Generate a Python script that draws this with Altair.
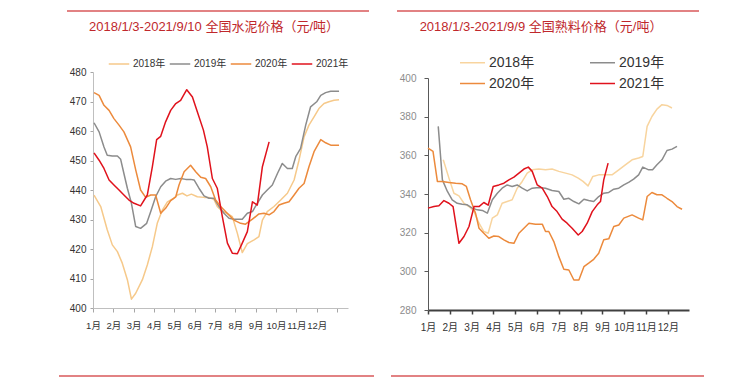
import altair as alt
import pandas as pd

FONT = "'Liberation Sans Narrow', 'Arial Narrow', 'Liberation Sans', 'Noto Sans CJK SC'"
YEARS = ["2018年", "2019年", "2020年", "2021年"]
COLORS_L = ["#f6c98a", "#8c8c8c", "#ec8a3c", "#e0121c"]
COLORS_R = ["#f8d49e", "#8c8c8c", "#ec8a3c", "#e0121c"]
WIDTHS = [1.5, 1.5, 1.8, 3.2]

# ---------------- cement price (left) ----------------
cement_2018_m = [1.05, 1.38, 1.7, 1.95, 2.2, 2.44, 2.69, 2.89, 3.1, 3.43, 3.67, 3.92, 4.16, 4.41, 4.66, 4.98,
                 5.15, 5.4, 5.62, 5.84, 6.13, 6.46, 6.7, 6.95, 7.11, 7.36, 7.6, 7.85, 8.1, 8.34, 8.59, 8.92,
                 9.16, 9.33, 9.57, 9.9, 10.23, 10.56, 10.89, 11.13, 11.38, 11.62, 11.87, 12.11, 12.36, 12.6,
                 12.85, 13.1]
cement_2018_v = [438.3, 434.4, 426.5, 421.4, 419.1, 415.2, 409.6, 403.0, 405.0, 409.6, 414.6, 420.8, 428.7,
                 433.2, 436.0, 437.2, 438.3, 438.9, 438.0, 438.6, 437.7, 437.5, 437.5, 436.8, 434.4, 432.7,
                 432.1, 431.0, 425.3, 418.8, 421.8, 423.1, 424.2, 429.8, 432.7, 434.4, 436.6, 438.9, 443.4,
                 450.1, 458.0, 462.0, 464.8, 467.6, 469.3, 469.9, 470.4, 470.6]
cement_2019_m = [1.05, 1.3, 1.54, 1.7, 1.95, 2.2, 2.36, 2.52, 2.69, 2.89, 3.1, 3.34, 3.64, 3.84, 4.08, 4.33,
                 4.57, 4.82, 5.07, 5.31, 5.56, 5.8, 5.97, 6.21, 6.46, 6.7, 6.95, 7.2, 7.44, 7.69, 7.93, 8.34,
                 8.59, 8.84, 9.08, 9.33, 9.57, 9.82, 10.07, 10.31, 10.56, 10.8, 10.97, 11.21, 11.46, 11.7,
                 12.0, 12.2, 12.44, 12.69, 13.1]
cement_2019_v = [462.8, 459.7, 454.6, 451.8, 451.5, 451.5, 450.4, 445.6, 440.6, 435.5, 427.6, 427.0, 428.7,
                 432.7, 437.7, 441.1, 443.0, 443.9, 443.6, 443.9, 443.6, 443.6, 443.4, 440.6, 438.0, 437.2,
                 437.2, 434.4, 432.1, 430.4, 430.1, 430.1, 432.1, 432.7, 435.5, 438.3, 440.0, 441.7, 445.6,
                 449.0, 447.3, 447.3, 451.3, 454.1, 462.0, 468.2, 469.9, 472.1, 473.0, 473.5, 473.5]
cement_2020_m = [1.05, 1.3, 1.54, 1.79, 2.03, 2.28, 2.52, 2.85, 3.1, 3.34, 3.59, 3.84, 4.08, 4.33, 4.57,
                 4.82, 5.07, 5.23, 5.48, 5.8, 6.05, 6.3, 6.54, 6.79, 7.03, 7.28, 7.6, 7.93, 8.26, 8.5, 8.84,
                 9.16, 9.41, 9.66, 9.9, 10.15, 10.39, 10.64, 10.89, 11.13, 11.38, 11.62, 11.87, 12.2, 12.44,
                 12.69, 13.1]
cement_2020_v = [473.0, 472.1, 468.7, 467.0, 464.2, 462.0, 459.7, 454.6, 446.8, 440.0, 437.5, 438.3, 438.3,
                 432.1, 433.8, 436.4, 437.7, 441.7, 446.2, 448.4, 446.2, 444.3, 443.9, 441.1, 436.6, 434.4,
                 432.1, 429.8, 428.7, 428.4, 430.1, 431.9, 432.1, 431.6, 432.7, 434.9, 435.5, 436.0, 438.3,
                 440.6, 442.2, 447.9, 453.0, 457.1, 456.0, 455.2, 455.2]
cement_2021_m = [1.05, 1.3, 1.54, 1.79, 2.03, 2.28, 2.52, 2.77, 3.02, 3.34, 3.67, 3.92, 4.13, 4.33, 4.57,
                 4.82, 5.07, 5.31, 5.61, 5.89, 6.13, 6.43, 6.62, 6.87, 7.11, 7.36, 7.61, 7.85, 8.1, 8.34,
                 8.59, 8.84, 9.08, 9.33, 9.66]
cement_2021_v = [452.6, 450.1, 447.3, 443.4, 441.7, 440.0, 438.3, 436.6, 435.5, 434.6, 438.3, 447.9, 457.1,
                 458.2, 463.1, 467.0, 469.3, 470.4, 474.0, 471.5, 466.5, 460.3, 454.6, 443.9, 440.6, 431.0,
                 422.0, 418.6, 418.4, 422.0, 425.9, 436.0, 434.9, 447.9, 456.3]

# ---------------- clinker price (right) ----------------
clinker_2018_m = [1.7, 1.96, 2.19, 2.42, 2.65, 2.88, 3.11, 3.34, 3.56, 3.76, 3.95, 4.18, 4.4, 4.63, 4.86,
                  5.09, 5.32, 5.55, 5.78, 6.08, 6.39, 6.69, 7.0, 7.31, 7.61, 7.89, 8.11, 8.34, 8.56, 8.83,
                  9.14, 9.44, 9.75, 10.05, 10.36, 10.66, 10.85, 11.05, 11.27, 11.5, 11.73, 11.96, 12.19]
clinker_2018_v = [357.7, 348.2, 340.4, 339.0, 335.2, 333.5, 330.9, 324.9, 320.6, 319.7, 327.5, 329.2, 335.2,
                  336.1, 337.0, 343.0, 346.5, 350.8, 352.5, 352.9, 352.5, 352.9, 351.7, 350.8, 349.9, 348.2,
                  346.5, 344.2, 349.1, 349.9, 349.9, 349.9, 352.5, 355.1, 357.7, 358.6, 359.4, 375.0, 380.1,
                  383.9, 386.2, 385.8, 384.5]
clinker_2019_m = [1.47, 1.66, 1.89, 2.11, 2.34, 2.57, 2.8, 3.03, 3.26, 3.49, 3.72, 3.95, 4.18, 4.4, 4.63,
                  4.86, 5.09, 5.32, 5.55, 5.78, 6.08, 6.39, 6.69, 7.0, 7.23, 7.46, 7.69, 7.92, 8.15, 8.37,
                  8.6, 8.83, 9.06, 9.29, 9.52, 9.75, 9.98, 10.2, 10.43, 10.66, 10.85, 11.12, 11.3, 11.5,
                  11.73, 11.96, 12.19, 12.42]
clinker_2019_v = [375.0, 347.3, 341.3, 337.0, 335.2, 334.7, 334.4, 332.7, 331.8, 331.5, 330.1, 337.0, 340.4,
                  343.0, 344.7, 343.9, 344.7, 343.0, 341.6, 343.0, 343.4, 343.0, 341.8, 341.3, 337.3, 337.8,
                  336.1, 334.9, 337.3, 336.6, 336.1, 338.7, 340.4, 340.8, 342.5, 343.0, 344.7, 346.0, 347.7,
                  349.9, 353.9, 352.5, 352.5, 355.1, 357.7, 362.5, 363.2, 364.6]
clinker_2020_m = [1.0, 1.23, 1.43, 1.66, 1.96, 2.27, 2.57, 2.76, 2.95, 3.18, 3.34, 3.56, 3.79, 4.02, 4.25,
                  4.48, 4.71, 4.94, 5.17, 5.4, 5.63, 5.93, 6.24, 6.39, 6.54, 6.77, 7.0, 7.23, 7.46, 7.69,
                  7.92, 8.15, 8.37, 8.6, 8.83, 9.06, 9.29, 9.52, 9.75, 9.98, 10.36, 10.66, 10.85, 11.05,
                  11.27, 11.5, 11.73, 11.96, 12.19, 12.42, 12.65]
clinker_2020_v = [363.7, 362.0, 346.5, 346.5, 346.0, 345.6, 345.3, 343.9, 337.0, 330.1, 322.3, 319.7, 317.1,
                  318.3, 318.0, 316.3, 314.9, 314.5, 319.7, 322.3, 324.9, 324.4, 324.4, 320.6, 320.6, 315.4,
                  307.6, 301.1, 300.7, 295.5, 295.5, 302.4, 304.2, 306.2, 309.4, 316.3, 316.8, 323.2, 324.0,
                  327.5, 329.2, 327.5, 326.6, 338.7, 340.8, 339.6, 339.6, 337.8, 336.1, 333.5, 332.1]
clinker_2021_m = [1.0, 1.27, 1.5, 1.73, 1.96, 2.15, 2.42, 2.65, 2.88, 3.11, 3.34, 3.56, 3.76, 3.99, 4.25,
                  4.48, 4.71, 4.94, 5.17, 5.4, 5.6, 5.78, 6.01, 6.24, 6.47, 6.69, 6.92, 7.15, 7.38, 7.61,
                  7.89, 8.07, 8.3, 8.53, 8.76, 8.91, 9.06, 9.26]
clinker_2021_v = [332.7, 333.5, 333.9, 336.6, 335.2, 333.5, 314.5, 318.0, 323.2, 333.5, 333.5, 335.6, 334.2,
                  343.9, 344.7, 345.6, 347.3, 348.7, 350.8, 352.9, 353.9, 351.7, 344.7, 343.0, 338.7, 333.5,
                  330.9, 327.0, 324.9, 322.3, 318.8, 320.6, 324.9, 330.9, 334.4, 336.1, 347.3, 356.0]


def long_df(series):
    rows = []
    for year, ms, vs in series:
        for order, (m, v) in enumerate(zip(ms, vs)):
            rows.append({"m": m, "v": v, "year": year, "o": order})
    return pd.DataFrame(rows)


cement_df = long_df([("2018年", cement_2018_m, cement_2018_v), ("2019年", cement_2019_m, cement_2019_v),
                     ("2020年", cement_2020_m, cement_2020_v), ("2021年", cement_2021_m, cement_2021_v)])
clinker_df = long_df([("2018年", clinker_2018_m, clinker_2018_v), ("2019年", clinker_2019_m, clinker_2019_v),
                      ("2020年", clinker_2020_m, clinker_2020_v), ("2021年", clinker_2021_m, clinker_2021_v)])

one = pd.DataFrame({"a": [0]})
LABEL_EXPR = "datum.value <= 12 ? datum.value + '月' : ''"
DECO = "#d9585a"
TITLE_COLOR = "#c0282c"


def deco(x1, x2, y):
    return alt.Chart(one).mark_rule(color=DECO, strokeWidth=1.6).encode(
        x=alt.value(x1), x2=alt.value(x2), y=alt.value(y))


def title(text, x, y, size):
    return alt.Chart(one).mark_text(text=text, font=FONT, fontSize=size, color=TITLE_COLOR,
                                    align="center", baseline="middle").encode(
        x=alt.value(x), y=alt.value(y))


def legend(**kw):
    base = dict(title=None, orient="none", direction="horizontal", symbolType="stroke",
                labelFont=FONT, labelColor="#333333", padding=0)
    base.update(kw)
    return alt.Legend(**base)


# ---- left panel ----
W1, H1 = 255, 236
LEG_L = dict(legendX=15, legendY=-19, symbolSize=420, labelFontSize=10, labelOffset=3, columnPadding=0)
left_lines = alt.Chart(cement_df).mark_line(strokeJoin="round").encode(
    x=alt.X("m:Q", title=None,
            scale=alt.Scale(domain=[1, 13.54], nice=False, zero=False),
            axis=alt.Axis(values=list(range(1, 14)), labelExpr=LABEL_EXPR, grid=False,
                          domainColor="#bfbfbf", tickColor="#a6a6a6", tickSize=4,
                          labelFont=FONT, labelFontSize=9.5, labelColor="#333333",
                          labelPadding=8, labelFlush=False, labelOverlap=False)),
    y=alt.Y("v:Q", title=None,
            scale=alt.Scale(domain=[400, 480], nice=False, zero=False),
            axis=alt.Axis(values=list(range(400, 481, 10)), grid=False,
                          domainColor="#bfbfbf", tickColor="#a6a6a6", tickSize=3,
                          labelFont=FONT, labelFontSize=10, labelColor="#333333",
                          labelPadding=4, labelOverlap=False)),
    color=alt.Color("year:O", scale=alt.Scale(domain=YEARS, range=COLORS_L), legend=legend(**LEG_L)),
    strokeWidth=alt.StrokeWidth("year:O", scale=alt.Scale(domain=YEARS, range=WIDTHS), legend=legend(**LEG_L)),
    order="o:Q",
)

left = alt.layer(
    left_lines,
    title("2018/1/3-2021/9/10 全国水泥价格（元/吨）", 121, -45, 13),
    deco(-26, 276, -61),
    deco(-34, 281, 304),
).properties(width=W1, height=H1)

# ---- right panel (plot area starts 6px lower than the left one) ----
W2, H2 = 261, 232
LEG_R = dict(legendX=31, legendY=-23, columns=2, symbolSize=625, labelFontSize=14, labelOffset=3,
             columnPadding=52, rowPadding=-4)
right_lines = alt.Chart(clinker_df).mark_line(strokeJoin="round").encode(
    x=alt.X("m:Q", title=None,
            scale=alt.Scale(domain=[1, 12.97], nice=False, zero=False),
            axis=alt.Axis(values=list(range(1, 13)), labelExpr=LABEL_EXPR, grid=False,
                          domainColor="#404040", domainWidth=2, tickColor="#404040", tickWidth=1.5,
                          tickSize=4, labelFont=FONT, labelFontSize=10, labelColor="#333333",
                          labelPadding=8, labelFlush=False, labelOverlap=False)),
    y=alt.Y("v:Q", title=None,
            scale=alt.Scale(domain=[280, 400], nice=False, zero=False),
            axis=alt.Axis(values=list(range(280, 401, 20)), grid=False,
                          domainColor="#595959", tickColor="#595959", tickSize=4,
                          labelFont=FONT, labelFontSize=10, labelColor="#8c8c8c",
                          labelPadding=8, labelOverlap=False)),
    color=alt.Color("year:O", scale=alt.Scale(domain=YEARS, range=COLORS_R), legend=legend(**LEG_R)),
    strokeWidth=alt.StrokeWidth("year:O", scale=alt.Scale(domain=YEARS, range=WIDTHS), legend=legend(**LEG_R)),
    order="o:Q",
)

right = alt.layer(
    right_lines,
    title("2018/1/3-2021/9/9 全国熟料价格（元/吨）", 113, -51, 13),
    deco(-31, 271, -67),
    deco(-37, 276, 298),
).properties(width=W2, height=H2)

spacer = alt.Chart(one).mark_point(opacity=0).encode(
    x=alt.value(0), y=alt.value(0)).properties(width=W2, height=6)
right_col = alt.vconcat(spacer, right, spacing=0, bounds="flush")

chart = alt.hconcat(left, right_col, spacing=80, bounds="flush").resolve_scale(
    x="independent", y="independent", color="independent", strokeWidth="independent"
).configure_view(stroke=None).properties(
    padding={"left": 50, "top": 2, "right": 5, "bottom": 5}, background="white"
)

chart.save("out.html", embed_options={"renderer": "svg", "actions": False})
